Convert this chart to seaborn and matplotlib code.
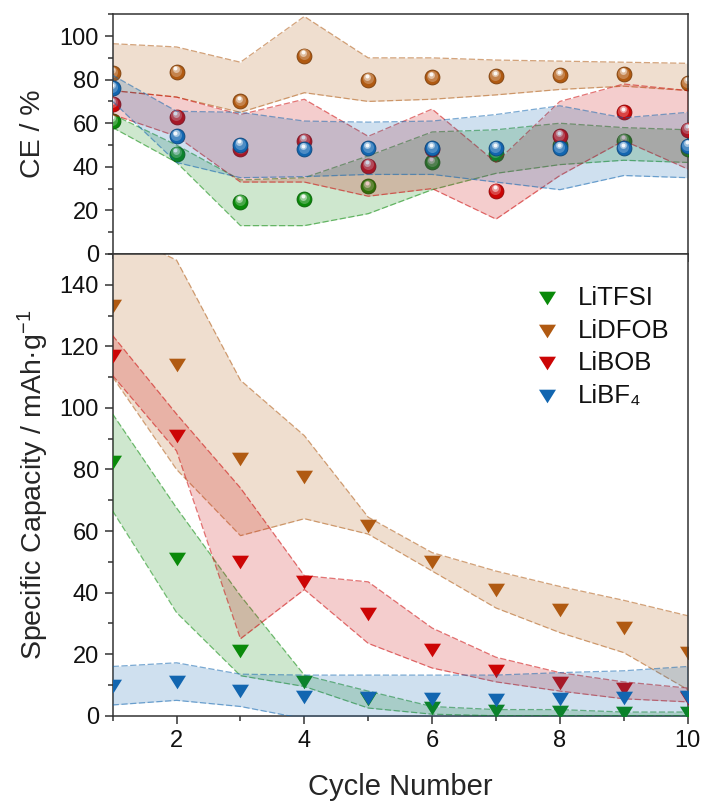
import numpy as np
import pandas as pd
import matplotlib
matplotlib.use("Agg")
import matplotlib.pyplot as plt
from matplotlib.transforms import offset_copy
from matplotlib.ticker import MultipleLocator
from matplotlib.colors import to_rgb
import seaborn as sns

# ---------------- data ----------------
cycles = [1, 2, 3, 4, 5, 6, 7, 8, 9, 10]
salts = ["LiTFSI", "LiDFOB", "LiBOB", "LiBF4"]
salt_labels = ["LiTFSI", "LiDFOB", "LiBOB", "LiBF\u2084"]

# Coulombic efficiency (%) : mean, upper and lower bound
ce_litfsi = [61, 46, 24, 25, 31, 42, 46, 50, 52, 48]
ce_litfsi_hi = [64, 50, 34, 35, 45, 56, 57, 60, 58, 57]
ce_litfsi_lo = [58, 42, 13, 13, 18.5, 29.5, 37, 41, 43, 42]

ce_lidfob = [83, 83.5, 70, 91, 80, 81, 81.5, 82, 82.5, 78.5]
ce_lidfob_hi = [96.5, 95, 88, 109, 90, 90, 89, 88.5, 88, 87.5]
ce_lidfob_lo = [75, 72, 65, 74, 70, 71, 73, 75.5, 77, 75]

ce_libob = [69, 63, 48, 52, 40.5, 48, 29, 54, 65, 57]
ce_libob_hi = [75, 72, 64, 71, 54, 66.5, 42, 70, 78, 75]
ce_libob_lo = [64, 54, 33, 33, 26.5, 30, 16, 36, 52, 39]

ce_libf4 = [76, 54, 50, 48, 48.5, 48.5, 48.5, 48.5, 48.5, 49.5]
ce_libf4_hi = [82, 65.5, 65, 61, 60.5, 61, 64, 68, 62.5, 65]
ce_libf4_lo = [70, 42, 35, 35.5, 36.5, 36.5, 33, 29.5, 36, 35]

# Specific capacity (mAh/g) : mean, upper and lower bound
cap_litfsi = [82.5, 51, 21, 11, 5.5, 2.5, 1.5, 1.2, 1, 1]
cap_litfsi_hi = [98, 67.5, 39, 13.2, 8, 3, 2, 2, 1.2, 1.2]
cap_litfsi_lo = [66.5, 33.5, 13, 9.5, 2.5, 0.5, 0, 0, 0, 0]

cap_lidfob = [133, 114, 83.5, 77.5, 61.5, 50, 41, 34.5, 28.5, 20.5]
cap_lidfob_hi = [158, 148, 109, 91, 64.5, 53, 47, 42, 37.5, 32.5]
cap_lidfob_lo = [110, 80, 58.5, 64, 59, 47, 35, 27, 20.5, 8.5]

cap_libob = [117, 91, 50, 43.5, 33, 21.5, 14.5, 10.5, 8.7, 5.7]
cap_libob_hi = [123.5, 98, 74, 45.5, 43.5, 28.5, 19, 14, 11, 9]
cap_libob_lo = [110.5, 86, 25, 41, 23.5, 15.5, 11, 8, 5.5, 4.5]

cap_libf4 = [9.5, 11, 8, 6.2, 5.6, 5.5, 5.2, 5.5, 5.6, 6.2]
cap_libf4_hi = [16, 17.2, 13.5, 13.2, 13.2, 13.2, 13.2, 14, 14.6, 16]
cap_libf4_lo = [3.5, 5, 3, -1, -2, -2, -2, -2, -2, -2]

colors = {"LiTFSI": "#0a8a0a", "LiDFOB": "#b05a12",
          "LiBOB": "#cc0505", "LiBF4": "#1266b0"}

ce = {"LiTFSI": (ce_litfsi, ce_litfsi_hi, ce_litfsi_lo),
      "LiDFOB": (ce_lidfob, ce_lidfob_hi, ce_lidfob_lo),
      "LiBOB": (ce_libob, ce_libob_hi, ce_libob_lo),
      "LiBF4": (ce_libf4, ce_libf4_hi, ce_libf4_lo)}
cap = {"LiTFSI": (cap_litfsi, cap_litfsi_hi, cap_litfsi_lo),
       "LiDFOB": (cap_lidfob, cap_lidfob_hi, cap_lidfob_lo),
       "LiBOB": (cap_libob, cap_libob_hi, cap_libob_lo),
       "LiBF4": (cap_libf4, cap_libf4_hi, cap_libf4_lo)}

# layering: later series sit on top of earlier ones
draw_order = ["LiDFOB", "LiTFSI", "LiBOB", "LiBF4"]

# ---------------- style ----------------
sns.set_style("ticks")
plt.rcParams["font.family"] = ["Liberation Sans", "DejaVu Sans"]
plt.rcParams["mathtext.fontset"] = "custom"
plt.rcParams["mathtext.rm"] = "Liberation Sans"
plt.rcParams["mathtext.it"] = "Liberation Sans:italic"
plt.rcParams["mathtext.bf"] = "Liberation Sans:bold"
plt.rcParams["axes.edgecolor"] = "#333333"
plt.rcParams["axes.linewidth"] = 1.1
plt.rcParams["text.color"] = "#111111"
plt.rcParams["xtick.color"] = "#333333"
plt.rcParams["ytick.color"] = "#333333"
plt.rcParams["xtick.labelcolor"] = "#111111"
plt.rcParams["ytick.labelcolor"] = "#111111"

fig = plt.figure(figsize=(7.06, 8.06), dpi=100)
ax1 = fig.add_axes([0.1596, 0.6849, 0.8144, 0.2974])
ax2 = fig.add_axes([0.1596, 0.1120, 0.8144, 0.5729])

tri_marker = [(-1, 0.8), (1, 0.8), (0, -0.8), (-1, 0.8)]

LABEL_FS = 20.5
TICK_FS = 17


def mix(c, t):
    r = np.array(to_rgb(c))
    return tuple(r + (1 - r) * t)


def shade(c, t):
    return tuple(np.array(to_rgb(c)) * (1 - t))


def band(ax, y_hi, y_lo, color, z):
    ax.fill_between(cycles, y_lo, y_hi, color=color, alpha=0.2, lw=0, zorder=z)
    for yb in (y_hi, y_lo):
        sns.lineplot(x=cycles, y=yb, ax=ax, color=color, lw=0.9, alpha=0.55,
                     linestyle=(0, (5, 2)), zorder=z + 0.1)


def spheres(ax, y, color, z, s=115):
    sns.scatterplot(x=cycles, y=y, ax=ax, color=color, s=s, marker="o",
                    edgecolor=shade(color, 0.3), linewidth=0.6, zorder=z)
    # glossy highlight layers
    for frac, dx, dy, t in [(0.55, -0.4, 1.0, 0.25), (0.22, -0.7, 2.1, 0.6),
                            (0.07, -0.8, 2.7, 0.95)]:
        tr = offset_copy(ax.transData, fig=fig, x=dx, y=dy, units="points")
        ax.scatter(cycles, y, s=s * frac, color=mix(color, t), lw=0,
                   transform=tr, zorder=z + 0.05)


for i, name in enumerate(draw_order):
    col = colors[name]
    m, hi, lo = ce[name]
    band(ax1, hi, lo, col, 2 * i + 1)
    spheres(ax1, m, col, 2 * i + 1.5)

    m, hi, lo = cap[name]
    band(ax2, hi, lo, col, 2 * i + 1)
    sns.scatterplot(x=cycles, y=m, ax=ax2, color=col, s=150, marker=tri_marker,
                    linewidth=0, zorder=2 * i + 1.5,
                    label=salt_labels[salts.index(name)])

# ---------------- axes ----------------
for ax in (ax1, ax2):
    ax.set_xlim(1, 10)
    ax.xaxis.set_major_locator(MultipleLocator(2))
    ax.xaxis.set_minor_locator(MultipleLocator(1))
    ax.yaxis.set_major_locator(MultipleLocator(20))
    ax.yaxis.set_minor_locator(MultipleLocator(10))
    ax.tick_params(which="major", direction="out", length=6, width=1.1,
                   labelsize=TICK_FS, pad=4)
    ax.tick_params(which="minor", direction="out", length=3.3, width=1.1)
    ax.tick_params(top=False, right=False, which="both")
    for sp in ax.spines.values():
        sp.set_visible(True)

ax1.set_ylim(0, 110)
ax1.tick_params(axis="x", labelbottom=False)
ax1.set_xlabel("")
ax1.set_ylabel("CE / %", fontsize=LABEL_FS, va="center")
ax1.yaxis.set_label_coords(-0.1386, 0.5)

ax2.set_ylim(0, 150)
ax2.set_yticks([0, 20, 40, 60, 80, 100, 120, 140])
ax2.set_ylabel("Specific Capacity / mAh\u00b7g$^{-1}$", fontsize=LABEL_FS,
               va="center")
ax2.yaxis.set_label_coords(-0.1386, 0.5)
ax2.set_xlabel("Cycle Number", fontsize=21, va="center")
ax2.xaxis.set_label_coords(0.5, -0.1538)

handles, labels = ax2.get_legend_handles_labels()
lookup = dict(zip(labels, handles))
ax2.legend([lookup[l] for l in salt_labels], salt_labels, frameon=False,
           fontsize=18.5, loc="upper left", bbox_to_anchor=(0.7562, 0.645),
           bbox_transform=fig.transFigure, borderpad=0, borderaxespad=0,
           handlelength=1.0, handletextpad=0.73, labelspacing=0.33)

fig.savefig("out.png", dpi=100)
